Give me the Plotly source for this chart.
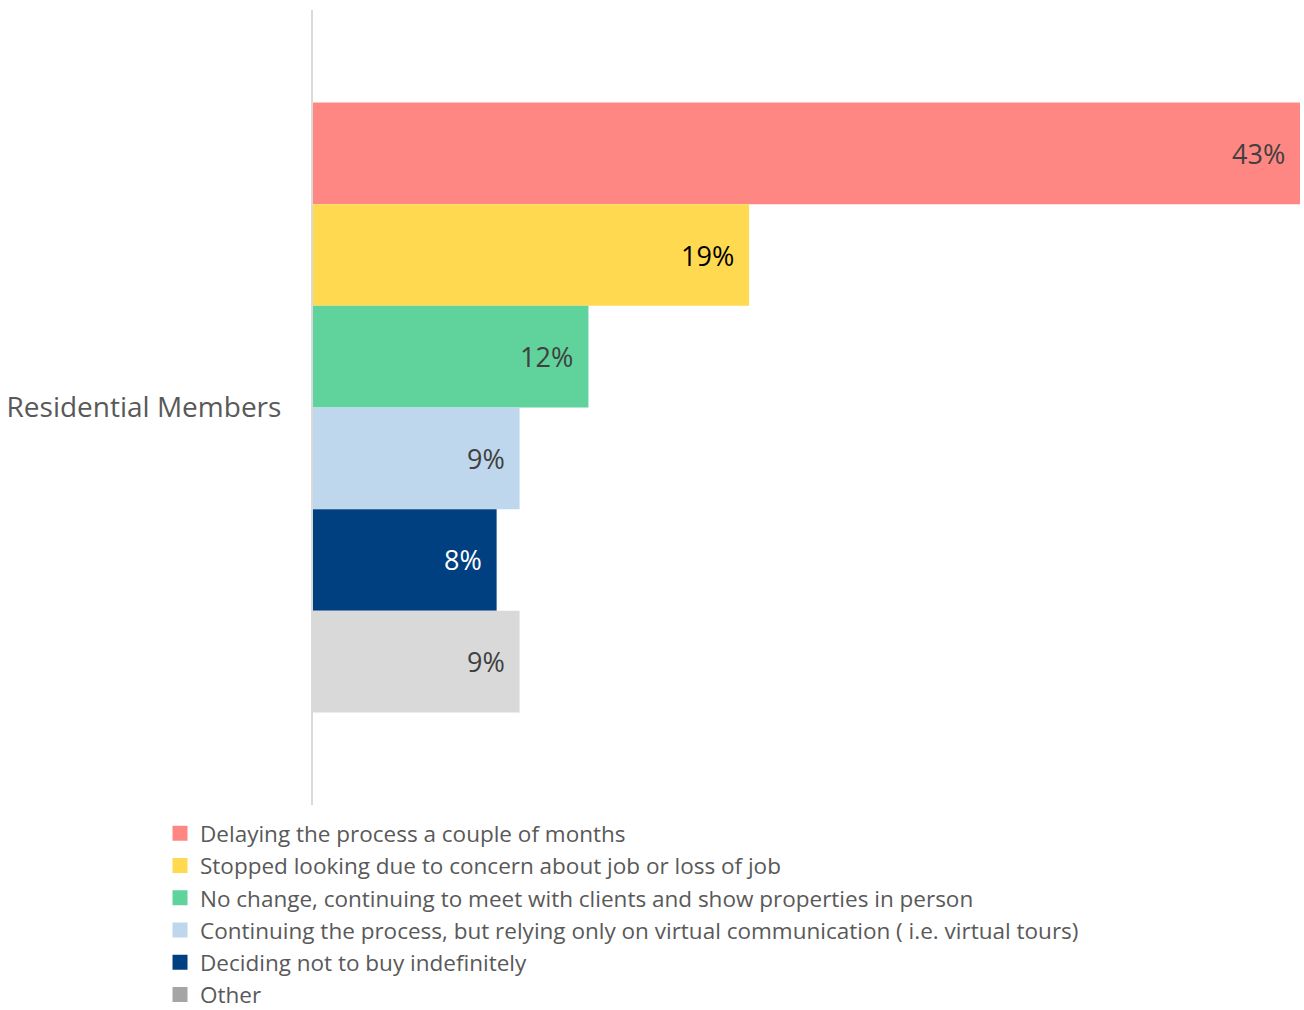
import plotly.graph_objects as go

category = ["Residential Members"]
series_names = [
    "Delaying the process a couple of months",
    "Stopped looking due to concern about job or loss of job",
    "No change, continuing to meet with clients and show properties in person",
    "Continuing the process, but relying only on virtual communication ( i.e. virtual tours)",
    "Deciding not to buy indefinitely",
    "Other",
]
values = [43, 19, 12, 9, 8, 9]
bar_colors = ["#FF8783", "#FFD94F", "#5FD39B", "#BFD7EC", "#004080", "#D9D9D9"]
legend_colors = ["#FF8783", "#FFD94F", "#5FD39B", "#BFD7EC", "#004080", "#A5A5A5"]
label_colors = ["#404040", "#000000", "#404040", "#404040", "#FFFFFF", "#404040"]

FONT = "Open Sans"
fig = go.Figure()

for name, v, c in zip(series_names, values, bar_colors):
    fig.add_trace(go.Bar(
        y=category, x=[v], name=name, orientation="h",
        marker=dict(color=c, line=dict(width=0)),
        showlegend=False, hoverinfo="skip",
    ))

for name, c in zip(series_names, legend_colors):
    fig.add_trace(go.Scatter(
        x=[None], y=[None], mode="markers", name=name,
        marker=dict(symbol="square", size=15, color=c),
        showlegend=True,
    ))

fig.update_layout(
    barmode="group",
    bargap=0.233,
    bargroupgap=0,
    width=1304, height=1010,
    margin=dict(l=313, r=4, t=10, b=205, autoexpand=False),
    plot_bgcolor="white", paper_bgcolor="white",
    font=dict(family=FONT, size=22.5, color="#595959"),
    showlegend=True,
    legend=dict(
        orientation="v", x=-0.155, xanchor="left", y=-0.009, yanchor="top",
        font=dict(family=FONT, size=22.5, color="#595959"),
        traceorder="normal", itemwidth=30, tracegroupgap=0,
        bgcolor="rgba(0,0,0,0)",
    ),
    xaxis=dict(range=[0, 43], visible=False, showgrid=False, zeroline=False, fixedrange=True),
    yaxis=dict(
        autorange="reversed", showgrid=False, zeroline=False,
        showline=True, linecolor="#D9D9D9", linewidth=2,
        ticks="", ticklabelstandoff=24, automargin=False,
        tickfont=dict(family=FONT, size=28, color="#595959"),
    ),
)

# data labels, inside end of each bar
n = len(values)
bandwidth = 1 - 0.233
for i, (v, lc) in enumerate(zip(values, label_colors)):
    ypos = -bandwidth / 2 + bandwidth / n * (i + 0.5)
    fig.add_annotation(
        x=v, y=ypos, yref="y", xref="x", text=f"{v}%", showarrow=False,
        xanchor="right", xshift=-13,
        font=dict(family=FONT, size=27, color=lc),
    )

fig.write_html(
    "out.html",
    config={"displayModeBar": False},
    post_script="document.body.style.margin='0px';document.body.style.overflow='hidden';",
)
